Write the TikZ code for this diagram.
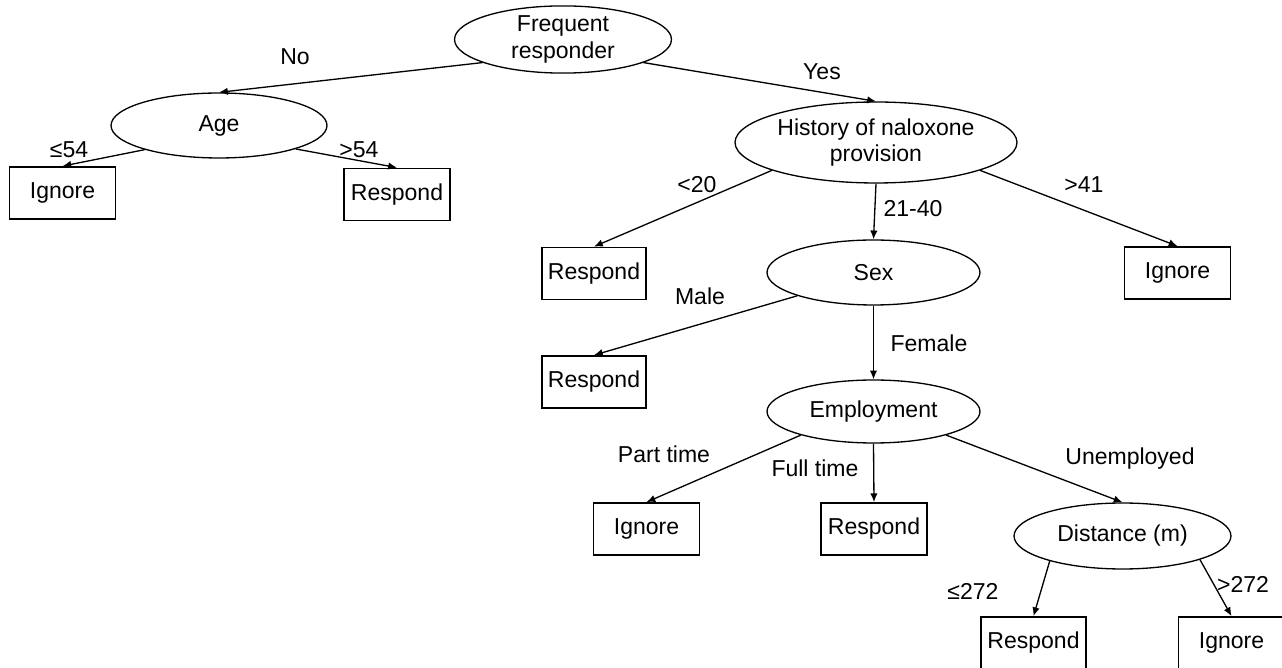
\documentclass[tikz,border=0pt]{standalone}
\usepackage{fontspec}
\setmainfont{Liberation Sans}
\usetikzlibrary{shapes.geometric, arrows.meta}

\begin{document}
\begin{tikzpicture}[
    x=0.02cm, y=-0.02cm,
    font=\fontsize{13.1}{15.3}\selectfont,
    split/.style={ellipse, draw, line width=0.75pt, inner sep=0pt, minimum width=4.3cm, minimum height=1.3cm, align=center},
    leaf/.style={rectangle, draw, line width=1pt, inner sep=0pt, minimum width=2.12cm, minimum height=1.04cm},
    arrow/.style={-{Latex[length=5pt, width=4.2pt]}, line width=0.75pt},
    cond/.style={anchor=base, inner sep=0pt}
]
    \useasboundingbox (0,0) rectangle (1282,668);

    % Root
    \node[split, minimum width=4.34cm] (freq) at (563,39.5) {Frequent\\responder};

    % No branch
    \node[split, minimum width=4.32cm] (age) at (219,125.5) {Age};
    \node[leaf] (ign1) at (62.5,193) {Ignore};
    \node[leaf] (res1) at (397,194.5) {Respond};

    % Yes branch
    \node[split, minimum width=5.64cm, minimum height=1.62cm] (hist) at (876,142.5) {History of naloxone\\provision};
    \node[leaf, minimum width=2.08cm] (res2) at (594,273.5) {Respond};
    \node[split, minimum width=4.26cm] (sex) at (873.5,272.5) {Sex};
    \node[leaf] (ign2) at (1177.5,273) {Ignore};
    \node[leaf, minimum width=2.08cm] (res3) at (594,382) {Respond};
    \node[split, minimum width=4.26cm, minimum height=1.26cm] (emp) at (873.5,411.5) {Employment};
    \node[leaf] (ign3) at (646.5,529) {Ignore};
    \node[leaf] (res4) at (874,529) {Respond};
    \node[split, minimum width=4.34cm, minimum height=1.32cm] (dist) at (1122.5,536) {Distance (m)};
    \node[leaf, minimum width=2.1cm] (res5) at (1033.5,643) {Respond};
    \node[leaf] (ign4) at (1231.5,643) {Ignore};

    % Arrows
    \draw[arrow] (freq.196) -- (age.north);
    \draw[arrow] (freq.344) -- (hist.north);
    \draw[arrow] (age.198) -- (ign1.north);
    \draw[arrow] (age.343) -- (res1.north);
    \draw[arrow] (hist.195) -- (res2.north);
    \draw[arrow] (hist.south) -- (sex.north);
    \draw[arrow] (hist.345) -- (ign2.north);
    \draw[arrow] (sex.197) -- (res3.north);
    \draw[arrow] (sex.south) -- (emp.north);
    \draw[arrow] (emp.198) -- (ign3.north);
    \draw[arrow] (emp.south) -- (res4.north);
    \draw[arrow] (emp.342) -- (dist.north);
    \draw[arrow] (dist.199) -- (res5.north);
    \draw[arrow] (dist.343) -- (ign4.north);

    % Branch labels
    \node[cond] (lno) at (295,65) {No};
    \node[cond] (lyes) at (822,80) {Yes};
    \node[cond] (lle54) at (69,158) {≤54};
    \node[cond] (lgt54) at (359,158) {>54};
    \node[cond] (llt20) at (697,193) {<20};
    \node[cond] (lmid) at (913,217) {21-40};
    \node[cond] (lgt41) at (1084,193) {>41};
    \node[cond] (lmale) at (700,305) {Male};
    \node[cond] (lfemale) at (929,352) {Female};
    \node[cond] (lpart) at (664,463) {Part time};
    \node[cond] (lfull) at (815,477) {Full time};
    \node[cond] (lunemp) at (1130,464.5) {Unemployed};
    \node[cond] (lle272) at (973,600) {≤272};
    \node[cond] (lgt272) at (1243,593) {>272};
\end{tikzpicture}
\end{document}
